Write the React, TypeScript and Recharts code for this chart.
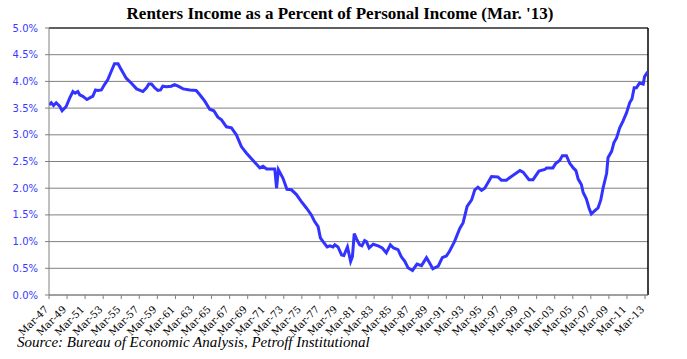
import React from "react";
import { LineChart, Line, XAxis, YAxis, CartesianGrid, ReferenceLine } from "recharts";

const title = "Renters Income as a Percent of Personal Income (Mar. '13)";
const source = "Source: Bureau of Economic Analysis, Petroff Institutional";

const xLabels = [
  "Mar-47", "Mar-49", "Mar-51", "Mar-53", "Mar-55", "Mar-57", "Mar-59", "Mar-61", "Mar-63",
  "Mar-65", "Mar-67", "Mar-69", "Mar-71", "Mar-73", "Mar-75", "Mar-77", "Mar-79", "Mar-81",
  "Mar-83", "Mar-85", "Mar-87", "Mar-89", "Mar-91", "Mar-93", "Mar-95", "Mar-97", "Mar-99",
  "Mar-01", "Mar-03", "Mar-05", "Mar-07", "Mar-09", "Mar-11", "Mar-13",
];
const yTicks = [0, 0.5, 1, 1.5, 2, 2.5, 3, 3.5, 4, 4.5, 5];

const years = [
  1947.0, 1947.25, 1947.5, 1947.8, 1948.2, 1948.45, 1948.9, 1949.3, 1949.65, 1949.9,
  1950.2, 1950.4, 1950.75, 1951.2, 1951.7, 1951.85, 1952.15, 1952.4, 1952.8, 1953.15,
  1953.5, 1953.9, 1954.25, 1954.65, 1954.9, 1955.2, 1955.55, 1956.1, 1956.7, 1957.4,
  1957.8, 1958.05, 1958.35, 1958.7, 1959.05, 1959.35, 1959.6, 1960.0, 1960.55, 1960.9,
  1961.3, 1961.85, 1962.6, 1963.3, 1963.7, 1964.25, 1964.8, 1965.25, 1965.7, 1966.1,
  1966.65, 1967.2, 1967.75, 1968.3, 1968.85, 1969.6, 1970.35, 1970.7, 1971.1, 1972.0,
  1972.2, 1972.4, 1972.9, 1973.35, 1973.85, 1974.4, 1974.95, 1975.5, 1976.05, 1976.4,
  1976.8, 1977.05, 1977.35, 1977.8, 1978.1, 1978.45, 1978.65, 1979.0, 1979.4, 1979.65,
  1980.05, 1980.4, 1980.6, 1980.8, 1981.05, 1981.4, 1981.65, 1981.95, 1982.15, 1982.45,
  1982.9, 1983.45, 1983.9, 1984.35, 1984.8, 1985.15, 1985.65, 1986.0, 1986.4, 1986.75,
  1987.25, 1987.75, 1988.25, 1988.8, 1989.15, 1989.5, 1990.1, 1990.55, 1991.0, 1991.35,
  1991.9, 1992.5, 1992.85, 1993.3, 1993.8, 1994.15, 1994.5, 1994.9, 1995.25, 1996.0,
  1996.7, 1997.1, 1997.65, 1998.2, 1999.15, 1999.5, 2000.15, 2000.6, 2001.25, 2001.9,
  2002.1, 2002.8, 2003.1, 2003.55, 2003.85, 2004.3, 2004.65, 2005.05, 2005.35, 2005.6,
  2005.95, 2006.15, 2006.5, 2006.8, 2007.05, 2007.45, 2007.8, 2008.1, 2008.35, 2008.75,
  2008.9, 2009.3, 2009.55, 2009.85, 2010.2, 2010.55, 2010.95, 2011.3, 2011.55, 2011.8,
  2012.05, 2012.4, 2012.8, 2012.95, 2013.3,
];

const rentShare = [
  3.56, 3.6, 3.55, 3.6, 3.53, 3.45, 3.53, 3.69, 3.81, 3.78,
  3.81, 3.75, 3.72, 3.66, 3.71, 3.72, 3.84, 3.83, 3.84, 3.94,
  4.03, 4.19, 4.33, 4.33, 4.25, 4.16, 4.06, 3.97, 3.86, 3.81,
  3.88, 3.95, 3.95, 3.88, 3.83, 3.84, 3.91, 3.9, 3.91, 3.94,
  3.91, 3.86, 3.84, 3.83, 3.75, 3.63, 3.48, 3.45, 3.33, 3.28,
  3.15, 3.13, 3.0, 2.78, 2.66, 2.52, 2.38, 2.41, 2.36, 2.36,
  2.0, 2.35, 2.19, 1.98, 1.97, 1.88, 1.75, 1.63, 1.5, 1.38,
  1.28, 1.07, 1.0, 0.9, 0.92, 0.9, 0.94, 0.9, 0.75, 0.74,
  0.9, 0.63, 0.72, 1.15, 1.05, 0.94, 0.92, 1.02, 1.0, 0.88,
  0.95, 0.92, 0.88, 0.79, 0.94, 0.88, 0.85, 0.72, 0.63, 0.51,
  0.46, 0.58, 0.55, 0.7, 0.6, 0.49, 0.54, 0.7, 0.73, 0.82,
  1.0, 1.25, 1.35, 1.66, 1.78, 1.97, 2.02, 1.96, 2.0, 2.22,
  2.21, 2.15, 2.15, 2.22, 2.33, 2.3, 2.16, 2.16, 2.32, 2.35,
  2.38, 2.38, 2.46, 2.52, 2.61, 2.61, 2.47, 2.38, 2.33, 2.17,
  2.07, 1.92, 1.8, 1.63, 1.52, 1.58, 1.63, 1.78, 2.0, 2.28,
  2.57, 2.69, 2.85, 2.94, 3.13, 3.25, 3.41, 3.6, 3.67, 3.88,
  3.88, 3.97, 3.95, 4.09, 4.18,
];

const data = years.map((year, i) => ({ year, value: rentShare[i] }));
const tickYears = xLabels.map((_, i) => 1947 + 2 * i);
const labelFor = (v: number) => xLabels[Math.round((v - 1947) / 2)] ?? "";

const XTick = (props: any) => {
  const { x, y, payload } = props;
  return (
    <g transform={`translate(${x},${y + 9})`}>
      <text
        transform="rotate(-45)"
        textAnchor="end"
        fontFamily="'DejaVu Serif', serif"
        fontSize={10}
        fill="#000"
      >
        {labelFor(payload.value)}
      </text>
    </g>
  );
};

export default function App() {
  return (
    <div style={{ position: "absolute", left: 0, top: 0, width: 687, height: 359, background: "#fff" }}>
      <div
        style={{
          position: "absolute",
          left: 0,
          width: 680,
          top: 4,
          textAlign: "center",
          fontFamily: "'Liberation Serif', serif",
          fontWeight: "bold",
          fontSize: 17,
          color: "#000",
          whiteSpace: "nowrap",
        }}
      >
        {title}
      </div>
      <LineChart
        width={687}
        height={359}
        data={data}
        margin={{ top: 28, right: 39, bottom: 0, left: 0 }}
      >
        <CartesianGrid horizontal vertical={false} stroke="#808080" strokeWidth={1} />
        <XAxis
          dataKey="year"
          type="number"
          domain={[1947, 2013.33]}
          ticks={tickYears}
          interval={0}
          allowDataOverflow
          height={64}
          tick={<XTick />}
          tickSize={4}
          stroke="#808080"
          axisLine={{ stroke: "#808080" }}
          tickLine={{ stroke: "#808080" }}
        />
        <YAxis
          type="number"
          domain={[0, 5]}
          ticks={yTicks}
          interval={0}
          width={49}
          tickSize={4}
          tickMargin={7}
          tickFormatter={(v: number) => v.toFixed(1) + "%"}
          tick={{ fill: "#3a3aff", fontSize: 10, fontFamily: "'DejaVu Sans', sans-serif" }}
          axisLine={{ stroke: "#808080" }}
          tickLine={{ stroke: "#808080" }}
        />
        <ReferenceLine y={5} stroke="#000" strokeWidth={1.2} ifOverflow="extendDomain" />
        <ReferenceLine x={2013.33} stroke="#000" strokeWidth={1.5} />
        <Line
          type="linear"
          dataKey="value"
          stroke="#3333ff"
          strokeWidth={3}
          dot={false}
          isAnimationActive={false}
        />
      </LineChart>
      <div
        style={{
          position: "absolute",
          left: 17,
          top: 334,
          fontFamily: "'Liberation Serif', serif",
          fontStyle: "italic",
          fontSize: 15,
          color: "#000",
          whiteSpace: "nowrap",
        }}
      >
        {source}
      </div>
    </div>
  );
}
